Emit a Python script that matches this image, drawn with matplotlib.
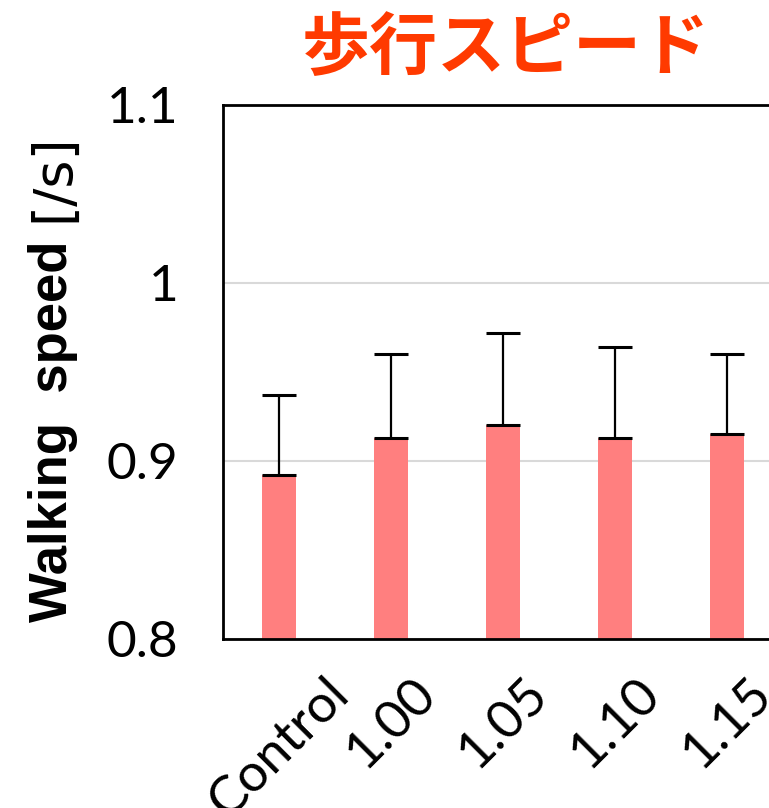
import numpy as np
import matplotlib
matplotlib.use('Agg')
import matplotlib.pyplot as plt
from matplotlib.ticker import FuncFormatter

# walking speed per condition, mean and upper SD
conditions = ['Control', '1.00', '1.05', '1.10', '1.15']
speed_mean = [0.892, 0.913, 0.920, 0.913, 0.915]
speed_sd = [0.045, 0.047, 0.052, 0.051, 0.045]

title_text = '歩行スピード'
ylabel_main = 'Walking  speed'
ylabel_unit = '[/s]'

bar_color = '#FF7F7F'
title_color = '#FF3A00'

fig = plt.figure(figsize=(7.69, 8.08), dpi=100)
# the plot area runs on past the right edge of the figure (6 slots wide)
ax = fig.add_axes([0.290, 0.2092, 0.874, 0.661])

x = np.arange(len(conditions))
ax.bar(x, speed_mean, width=0.31, color=bar_color, zorder=2)
ax.errorbar(x, speed_mean, yerr=[np.zeros(len(speed_sd)), speed_sd],
            fmt='none', ecolor='black', elinewidth=1.6,
            capsize=12, capthick=2.2, zorder=3)

ax.set_xlim(-0.5, 5.5)
ax.set_ylim(0.8, 1.1)
ax.set_yticks([0.8, 0.9, 1.0, 1.1])
ax.yaxis.set_major_formatter(FuncFormatter(lambda v, p: '{:g}'.format(round(v, 2))))
ax.yaxis.grid(True, color='#D9D9D9', linewidth=1.5, zorder=0)
ax.set_axisbelow(True)

for s in ax.spines.values():
    s.set_linewidth(2.0)
    s.set_color('black')

ax.tick_params(axis='y', length=0, pad=32, labelsize=37)
ax.tick_params(axis='x', length=0, pad=22, labelsize=38)
for lab in ax.get_yticklabels():
    lab.set_fontfamily('Lato')

ax.set_xticks(x)
ax.set_xticklabels(conditions, rotation=45, ha='center', va='top', family='Lato')

fig.text(506 / 769, 1 - 49 / 808, title_text, ha='center', va='center',
         fontsize=49, fontweight='bold', color=title_color,
         family=['Noto Sans CJK JP', 'DejaVu Sans'])

# y label: bold name plus plain unit stacked above it
y_name = fig.text(53 / 769, 1 - 622 / 808, ylabel_main, rotation=90,
                  ha='center', va='bottom', fontsize=38, fontweight='bold',
                  family='Liberation Sans')
fig.canvas.draw()
bb = y_name.get_window_extent().transformed(fig.transFigure.inverted())
fig.text(53 / 769, bb.y1 + 18 / 808, ylabel_unit, rotation=90,
         ha='center', va='bottom', fontsize=39, family='DejaVu Sans')

fig.savefig('out.png', dpi=100)
